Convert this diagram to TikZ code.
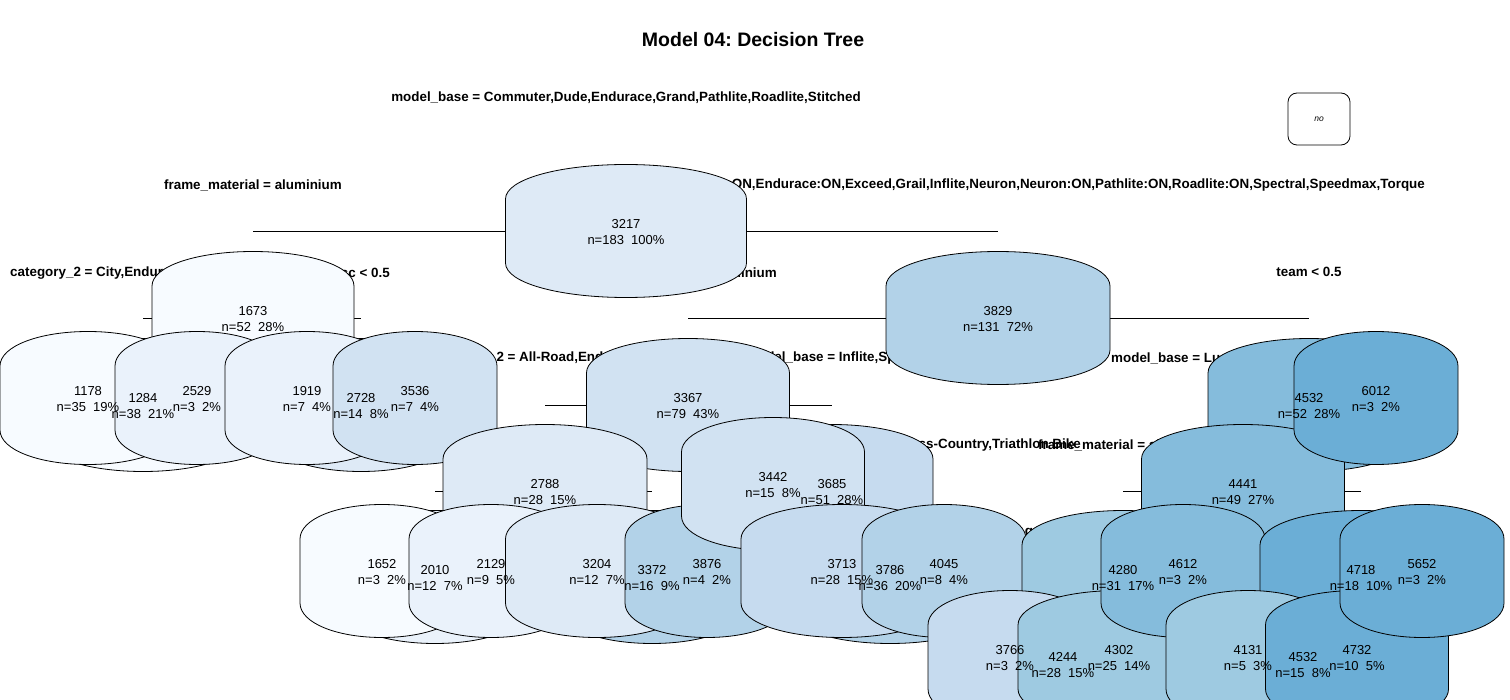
\documentclass[tikz,border=0pt]{standalone}
\usepackage{fontspec}
\setmainfont{Liberation Sans}
\frenchspacing

\definecolor{bluea}{HTML}{F7FBFF}
\definecolor{blueb}{HTML}{EAF2FB}
\definecolor{bluec}{HTML}{DEEAF6}
\definecolor{blued}{HTML}{D1E2F2}
\definecolor{bluee}{HTML}{C6DBEF}
\definecolor{bluef}{HTML}{B2D2E8}
\definecolor{blueg}{HTML}{9ECAE1}
\definecolor{blueh}{HTML}{85BCDC}
\definecolor{bluei}{HTML}{6BAED6}

\tikzset{
  boxline/.style={draw=black, line width=0.8pt},
  branch/.style={line width=0.8pt},
  splitlbl/.style={inner sep=0pt, font=\fontsize{13.4}{16}\selectfont\bfseries},
  valtext/.style={inner sep=0pt, align=center, font=\fontsize{13}{16}\selectfont},
  keybox/.style={draw, line width=0.8pt, rounded corners=9pt, minimum width=62pt,
    minimum height=52pt, font=\fontsize{8.5}{10}\selectfont\itshape},
  title/.style={inner sep=0pt, font=\fontsize{19.5}{22}\selectfont\bfseries}
}

% rounded node box: centre, width, fill
\newcommand\rbox[3]{%
  \pgfmathsetmacro\hw{#2/2}%
  \filldraw[boxline, fill=#3, shift={(#1)}]
    (-\hw,-32) -- (-\hw,32)
    .. controls (-\hw,52) and (-0.55*\hw,66.5) .. (0,66.5)
    .. controls (0.55*\hw,66.5) and (\hw,52) .. (\hw,32)
    -- (\hw,-32)
    .. controls (\hw,-52) and (0.55*\hw,-66.5) .. (0,-66.5)
    .. controls (-0.55*\hw,-66.5) and (-\hw,-52) .. cycle;
}

\begin{document}
\begin{tikzpicture}[x=1pt,y=-1pt]
  \useasboundingbox (0,0) rectangle (1510,700);
  \clip (0,0) rectangle (1510,700);

  % Nodes (rpart numbering)
  \coordinate (n1) at (626,231);
  \coordinate (n2) at (253,318);
  \coordinate (n3) at (998,318);
  \coordinate (n4) at (143,405);
  \coordinate (n5) at (361,405);
  \coordinate (n6) at (688,405);
  \coordinate (n7) at (1309,405);
  \coordinate (n8) at (88,398);
  \coordinate (n9) at (197,398);
  \coordinate (n10) at (307,398);
  \coordinate (n11) at (415,398);
  \coordinate (n12) at (545,491);
  \coordinate (n13) at (832,491);
  \coordinate (n14) at (1243,491);
  \coordinate (n15) at (1376,398);
  \coordinate (n24) at (435,577);
  \coordinate (n25) at (652,577);
  \coordinate (n26) at (773,484);
  \coordinate (n27) at (890,577);
  \coordinate (n28) at (1123,577);
  \coordinate (n29) at (1361,577);
  \coordinate (n48) at (382,571);
  \coordinate (n49) at (491,571);
  \coordinate (n50) at (597,571);
  \coordinate (n51) at (707,571);
  \coordinate (n54) at (842,571);
  \coordinate (n55) at (944,571);
  \coordinate (n56) at (1063,664);
  \coordinate (n57) at (1183,571);
  \coordinate (n58) at (1303,664);
  \coordinate (n59) at (1422,571);
  \coordinate (n112) at (1010,657);
  \coordinate (n113) at (1119,657);
  \coordinate (n116) at (1248,657);
  \coordinate (n117) at (1357,657);

  % Title and key
  \node[title] (ttl) at (753,40) {Model 04: Decision Tree};
  \node[keybox] (key) at (1319,119) {no};

  % Branches
  \foreach \pa/\le/\ri in {n1/n2/n3, n2/n4/n5, n3/n6/n7, n4/n8/n9, n5/n10/n11,
      n6/n12/n13, n7/n14/n15, n12/n24/n25, n13/n26/n27, n14/n28/n29,
      n24/n48/n49, n25/n50/n51, n27/n54/n55, n28/n56/n57, n29/n58/n59,
      n56/n112/n113, n58/n116/n117} {
    \draw[branch] (\le |- \pa) -- (\ri |- \pa);
  }

  % Split labels
  \node[splitlbl] (s1) at ([yshift=133pt]n1) {model\_base = Commuter,Dude,Endurace,Grand,Pathlite,Roadlite,Stitched};
  \node[splitlbl] (s2) at ([yshift=133pt]n2) {frame\_material = aluminium};
  \node[splitlbl, anchor=east] (s3) at (1425,185) {ON,Endurace:ON,Exceed,Grail,Inflite,Neuron,Neuron:ON,Pathlite:ON,Roadlite:ON,Spectral,Speedmax,Torque};
  \node[splitlbl, anchor=west] (s4) at (10,273) {category\_2 = City,Endura};
  \node[splitlbl, anchor=east] (s5) at (390,273) {sc < 0.5};
  \node[splitlbl, anchor=east] (s6) at (777,273) {aluminium};
  \node[splitlbl] (s7) at ([yshift=133pt]n7) {team < 0.5};
  \node[splitlbl, anchor=west] (s12) at (433,358) {category\_2 = All-Road,End};
  \node[splitlbl, anchor=west] (s13) at (746,358) {model\_base = Inflite,Spe};
  \node[splitlbl, anchor=west] (s14) at (1111,358) {model\_base = Lu};
  \node[splitlbl, anchor=east] (s27) at (1081,445) {category\_2 = Cross-Country,Triathlon Bike};
  \node[splitlbl, anchor=west] (s28) at (1038,445) {frame\_material = aluminium};
  \node[splitlbl] (s56) at (1029,533) {g};

  % Boxes, drawn in rpart order
  \foreach \nm/\bw/\fc in {n1/241/bluec, n2/202/bluea, n4/202/bluea, n8/176/bluea,
      n9/164/blueb, n5/183/bluec, n10/164/blueb, n11/164/blued, n3/224/bluef,
      n6/203/blued, n12/204/bluec, n24/183/blueb, n48/164/bluea, n49/164/blueb,
      n25/183/bluef, n50/183/bluec, n51/164/bluef, n13/202/bluee, n26/183/blued,
      n27/202/bluef, n54/202/bluee, n55/164/bluef, n7/202/blueh, n14/203/blueh,
      n28/202/blueg, n56/202/blueg, n112/164/bluee, n113/202/blueg, n57/164/blueh,
      n29/202/bluei, n58/183/bluei, n116/164/blueg, n117/183/bluei, n59/164/bluei,
      n15/164/bluei} {
    \rbox{\nm}{\bw}{\fc}
  }

  % Box texts
  \foreach \nm/\val/\cnt/\pct in {n1/3217/183/100, n2/1673/52/28, n3/3829/131/72,
      n4/1284/38/21, n5/2728/14/8, n6/3367/79/43, n7/4532/52/28, n8/1178/35/19,
      n9/2529/3/2, n10/1919/7/4, n11/3536/7/4, n12/2788/28/15, n13/3685/51/28,
      n14/4441/49/27, n15/6012/3/2, n24/2010/12/7, n25/3372/16/9, n26/3442/15/8,
      n27/3786/36/20, n28/4280/31/17, n29/4718/18/10, n48/1652/3/2, n49/2129/9/5,
      n50/3204/12/7, n51/3876/4/2, n54/3713/28/15, n55/4045/8/4, n56/4244/28/15,
      n57/4612/3/2, n58/4532/15/8, n59/5652/3/2, n112/3766/3/2, n113/4302/25/14,
      n116/4131/5/3, n117/4732/10/5} {
    \node[valtext] (t\nm) at ([yshift=-1pt]\nm) {\val\\n=\cnt\ \ \pct\%};
  }
\end{tikzpicture}
\end{document}
